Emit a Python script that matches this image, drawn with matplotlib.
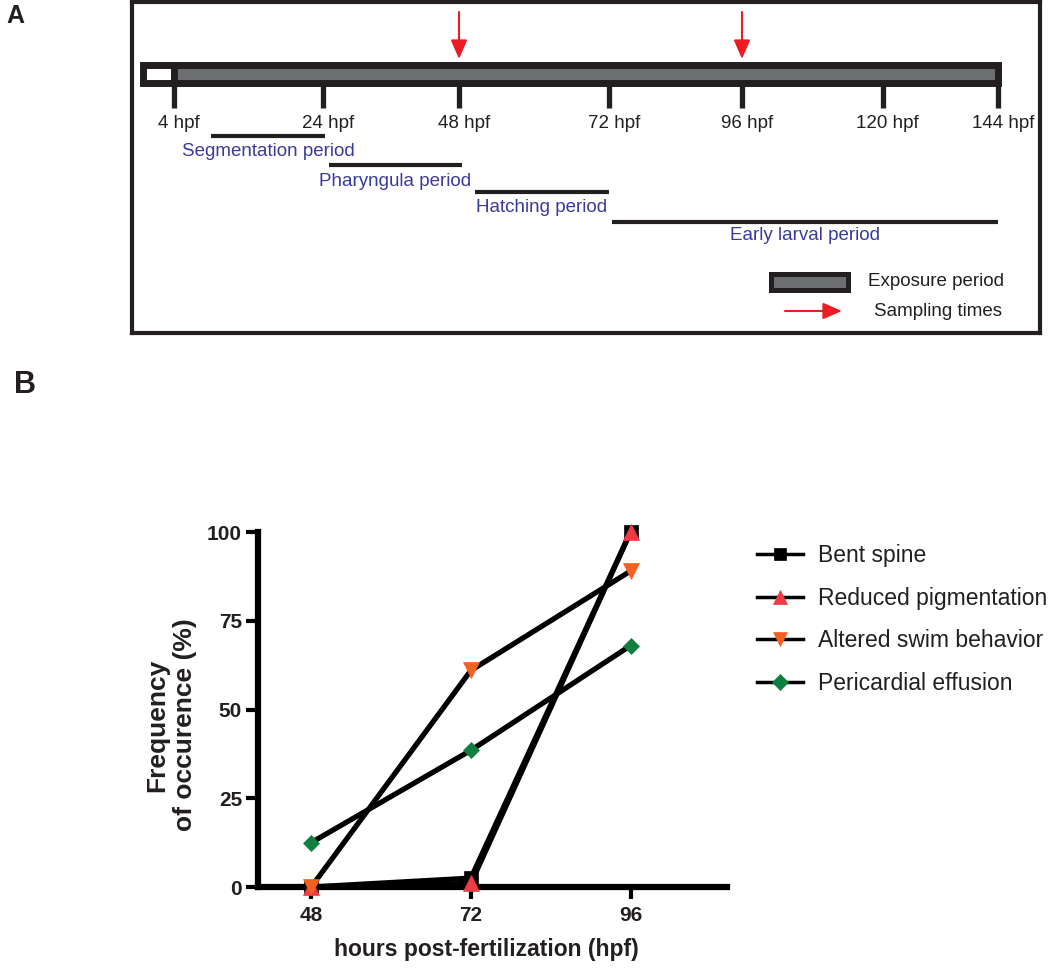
import numpy as np
import matplotlib
matplotlib.use('Agg')
import matplotlib.pyplot as plt
import matplotlib.transforms as mtransforms
from matplotlib.patches import Rectangle
from matplotlib.lines import Line2D

plt.rcParams['font.family'] = ['Liberation Sans', 'DejaVu Sans']

# ---- panel A: exposure timeline (hpf) ----
timeline_ticks = [4, 24, 48, 72, 96, 120, 144]
tick_labels = ['4 hpf', '24 hpf', '48 hpf', '72 hpf', '96 hpf', '120 hpf', '144 hpf']
pre_exposure = (0, 4)
exposure = (4, 144)
sampling_times = [48, 96]
period_names = ['Segmentation period', 'Pharyngula period', 'Hatching period', 'Early larval period']
period_start = [9, 25, 50.5, 72.5]
period_end = [24.4, 48.5, 72, 144]

# ---- panel B: frequency of occurence (%) ----
hpf = [48, 72, 96]
bent_spine = [0, 2.5, 100]
reduced_pigmentation = [0, 1, 100]
altered_swim = [0, 61, 89]
pericardial_effusion = [12.5, 38.5, 68]

dark = '#231f20'
blue = '#3a3a9c'
red = '#ed1c24'

fig = plt.figure(figsize=(10.5, 9.72), dpi=100)

# the schematic is not drawn to scale, so hpf goes through a piecewise scale
knot_hpf = [-1.8, 0, 4, 24, 48, 72, 96, 120, 144, 152.4]
knot_pos = [132, 143, 174, 323, 459, 609, 742, 883, 998, 1040]
fwd = lambda x: np.interp(x, knot_hpf, knot_pos)
inv = lambda p: np.interp(p, knot_pos, knot_hpf)

axA = fig.add_axes([132 / 1050, 1 - 333 / 972, 908 / 1050, 330.5 / 972])
axA.set_xscale('function', functions=(fwd, inv))
axA.set_xlim(knot_hpf[0], knot_hpf[-1])
axA.set_ylim(333, 2.5)
axA.set_xticks([])
axA.set_yticks([])
for s in axA.spines.values():
    s.set_linewidth(3)
    s.set_color(dark)

# exposure bar
axA.add_patch(Rectangle((pre_exposure[0], 65.5), pre_exposure[1] - pre_exposure[0], 17.5,
                        fc='white', ec=dark, lw=5, joinstyle='miter'))
axA.add_patch(Rectangle((exposure[0], 65.5), exposure[1] - exposure[0], 17.5,
                        fc='#6d6e71', ec=dark, lw=5, joinstyle='miter'))
axA.vlines(timeline_ticks, 85, 108, color=dark, lw=3.8)
for h, lab in zip(timeline_ticks, tick_labels):
    axA.annotate(lab, (h, 124), xytext=(3.5, 0), textcoords='offset points',
                 ha='center', va='center', fontsize=13.5, color=dark)

# sampling arrows
for t in sampling_times:
    axA.annotate('', xy=(t, 59), xytext=(t, 12),
                 arrowprops=dict(arrowstyle='-|>,head_length=1.15,head_width=0.5',
                                 mutation_scale=10, lw=1.5, color=red,
                                 shrinkA=0, shrinkB=0))

# developmental periods
line_rows = [136, 165, 192, 222]
label_rows = [151, 181, 207, 236]
for name, s, e, lr, tr in zip(period_names, period_start, period_end, line_rows, label_rows):
    axA.hlines(lr, s, e, color=dark, lw=3)
    mid = inv((fwd(s) + fwd(e)) / 2)
    axA.text(mid, tr, name, ha='center', va='center', fontsize=13.5, color=blue)

# key
blend = mtransforms.blended_transform_factory(axA.transAxes, axA.transData)
fx = lambda px: (px - 132) / 908
axA.add_patch(Rectangle((fx(770.5), 274.5), fx(847.5) - fx(770.5), 16, transform=blend,
                        fc='#6d6e71', ec=dark, lw=3.6, joinstyle='miter'))
axA.text(fx(868), 282, 'Exposure period', transform=blend, ha='left', va='center',
         fontsize=13.5, color=dark)
axA.annotate('', xy=(fx(842), 311), xytext=(fx(785), 311), xycoords=blend, textcoords=blend,
             arrowprops=dict(arrowstyle='-|>,head_length=1.15,head_width=0.5',
                             mutation_scale=10, lw=1.5, color=red, shrinkA=0, shrinkB=0))
axA.text(fx(874), 311, 'Sampling times', transform=blend, ha='left', va='center',
         fontsize=13.5, color=dark)

# ---- panel B ----
axB = fig.add_axes([258 / 1050, 1 - 887 / 972, 469 / 1050, 355 / 972])
series = [
    ('Bent spine', bent_spine, 's', 'black', 9.5),
    ('Reduced pigmentation', reduced_pigmentation, '^', '#ef3b45', 11),
    ('Altered swim behavior', altered_swim, 'v', '#f26122', 11),
    ('Pericardial effusion', pericardial_effusion, 'D', '#0f7f40', 8.5),
]
handles = []
for lab, vals, m, c, ms in series:
    axB.plot(hpf, vals, color='black', lw=3.8, marker=m, ms=ms, mfc=c, mec=c,
             mew=0.5, clip_on=False, zorder=3)
    handles.append(Line2D([], [], color='black', lw=2.5, marker=m, ms=ms * 0.95,
                          mfc=c, mec=c, mew=0.5, label=lab))

axB.set_xlim(40, 110.5)
axB.set_ylim(0, 100)
axB.set_xticks(hpf)
axB.set_yticks([0, 25, 50, 75, 100])
axB.spines['top'].set_visible(False)
axB.spines['right'].set_visible(False)
for side in ['left', 'bottom']:
    axB.spines[side].set_linewidth(4.5)
    axB.spines[side].set_color('black')
axB.tick_params(axis='both', width=3, length=8.5, labelsize=15, color='black', labelcolor=dark)
axB.tick_params(axis='x', pad=5)
axB.tick_params(axis='y', pad=3)
for t in axB.get_xticklabels() + axB.get_yticklabels():
    t.set_fontweight('bold')

axB.set_ylabel('Frequency\nof occurence (%)', fontsize=19, fontweight='bold', color=dark,
               va='center', linespacing=1.2)
axB.yaxis.set_label_coords(-0.185, 0.456)
axB.set_xlabel('hours post-fertilization (hpf)', fontsize=16.5, fontweight='bold',
               color=dark, va='center')
axB.xaxis.set_label_coords(0.486, -0.177)

axB.legend(handles=handles, loc='upper left', bbox_to_anchor=(757 / 1050, 1 - 544 / 972),
           bbox_transform=fig.transFigure, frameon=False, fontsize=16.5, handlelength=2.0,
           handletextpad=0.65, labelspacing=0.86, borderpad=0, borderaxespad=0,
           numpoints=1, labelcolor=dark)

fig.text(15 / 1050, 1 - 16 / 972, 'A', fontsize=18, fontweight='bold', ha='center',
         va='center', color=dark)
fig.text(25 / 1050, 1 - 385 / 972, 'B', fontsize=22, fontweight='bold', ha='center',
         va='center', color=dark)

fig.savefig('out.png', dpi=100)
